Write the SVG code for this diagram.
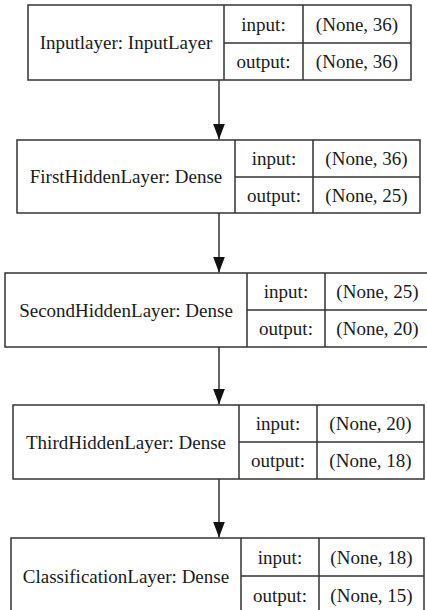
<svg xmlns="http://www.w3.org/2000/svg" width="427" height="610" viewBox="0 0 427 610">
  <defs>
    <style>
      .box { fill: #ffffff; stroke: #333333; stroke-width: 1.5; }
      .div { stroke: #333333; stroke-width: 1.5; fill: none; }
      .edge { stroke: #333333; stroke-width: 1.5; fill: none; }
      .lbl { font-family: 'Liberation Serif', 'Times New Roman', serif; font-size: 19px; fill: #1a1a1a; text-anchor: middle; }
    </style>
    <marker id="arrow" markerUnits="userSpaceOnUse" markerWidth="18" markerHeight="14" refX="16" refY="6" orient="auto">
      <path d="M0,0 L16,6 L0,12 Z" fill="#111111"/>
    </marker>
  </defs>
  <rect width="427" height="610" fill="#ffffff"/>

  <!-- connectors -->
  <g id="edges">
    <line class="edge" x1="219" y1="80" x2="219" y2="139.5" marker-end="url(#arrow)"/>
    <line class="edge" x1="219" y1="213" x2="219" y2="272.5" marker-end="url(#arrow)"/>
    <line class="edge" x1="219" y1="347" x2="219" y2="404.5" marker-end="url(#arrow)"/>
    <line class="edge" x1="219" y1="479" x2="219" y2="537.5" marker-end="url(#arrow)"/>
  </g>

  <!-- layer nodes -->
  <g id="Inputlayer" class="lbl">
    <rect class="box" x="28" y="5" width="383" height="75"/>
    <path class="div" d="M224,5 V80 M303,5 V80 M224,43 H411"/>
    <text x="126" y="49">Inputlayer: InputLayer</text>
    <text x="263.5" y="30.5">input:</text>
    <text x="357" y="30.5">(None, 36)</text>
    <text x="263.5" y="68">output:</text>
    <text x="357" y="68">(None, 36)</text>
  </g>

  <g id="FirstHiddenLayer" class="lbl">
    <rect class="box" x="17" y="140" width="403" height="73"/>
    <path class="div" d="M235,140 V213 M313,140 V213 M235,177 H420"/>
    <text x="126" y="183">FirstHiddenLayer: Dense</text>
    <text x="274" y="165">input:</text>
    <text x="366.5" y="165">(None, 36)</text>
    <text x="274" y="201.5">output:</text>
    <text x="366.5" y="201.5">(None, 25)</text>
  </g>

  <g id="SecondHiddenLayer" class="lbl">
    <rect class="box" x="5" y="273" width="425" height="74"/>
    <path class="div" d="M247,273 V347 M325,273 V347 M247,310 H430"/>
    <text x="126" y="316.5">SecondHiddenLayer: Dense</text>
    <text x="286" y="298">input:</text>
    <text x="377.5" y="298">(None, 25)</text>
    <text x="286" y="335">output:</text>
    <text x="377.5" y="335">(None, 20)</text>
  </g>

  <g id="ThirdHiddenLayer" class="lbl">
    <rect class="box" x="13" y="405" width="411" height="74"/>
    <path class="div" d="M239,405 V479 M317,405 V479 M239,442 H424"/>
    <text x="126" y="448.5">ThirdHiddenLayer: Dense</text>
    <text x="278" y="430">input:</text>
    <text x="370.5" y="430">(None, 20)</text>
    <text x="278" y="467">output:</text>
    <text x="370.5" y="467">(None, 18)</text>
  </g>

  <g id="ClassificationLayer" class="lbl">
    <rect class="box" x="11" y="538" width="413" height="76"/>
    <path class="div" d="M241,538 V614 M319,538 V614 M241,576 H424"/>
    <text x="126" y="582.5">ClassificationLayer: Dense</text>
    <text x="280" y="563.5">input:</text>
    <text x="371.5" y="563.5">(None, 18)</text>
    <text x="280" y="601.5">output:</text>
    <text x="371.5" y="601.5">(None, 15)</text>
  </g>
</svg>
